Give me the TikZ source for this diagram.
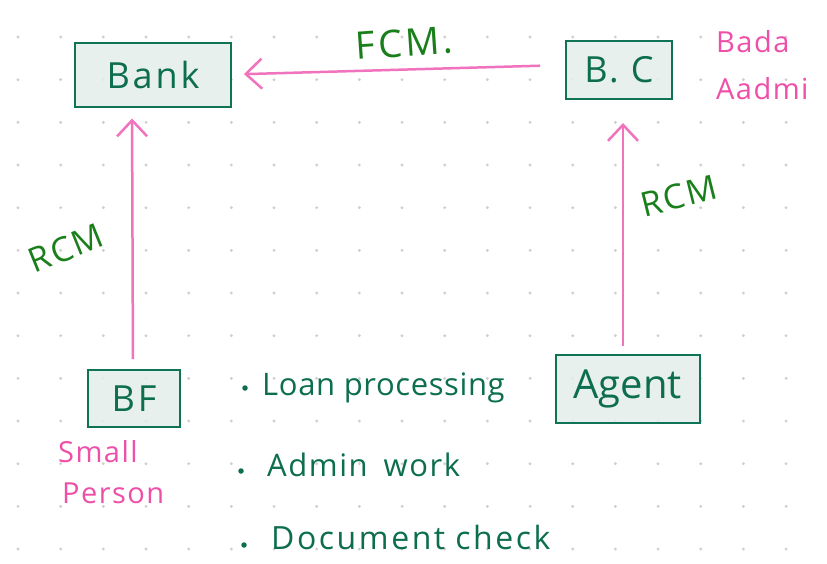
\documentclass[tikz,border=0pt]{standalone}
\usepackage{fontspec}
\setmainfont{Open Sans}
\usetikzlibrary{arrows.meta}
\definecolor{boxline}{HTML}{0F7356}
\definecolor{boxfill}{HTML}{E4EEEA}
\definecolor{inkgreen}{HTML}{0D6E4F}
\definecolor{notegreen}{HTML}{1A7F1A}
\definecolor{notepink}{HTML}{EE4FA8}
\definecolor{linkpink}{HTML}{F173BD}
\definecolor{griddot}{HTML}{CFCFCF}
\newcommand{\wide}[1]{\addfontfeatures{LetterSpace=#1}}
\tikzset{
  party/.style={draw=boxline, line width=2pt, fill=boxfill, fill opacity=0.85,
    text opacity=1, text=inkgreen, inner sep=0pt, font=\fontsize{36}{36}\selectfont\wide{8}},
  flow/.style={draw=linkpink, line width=2.5pt,
    -{Straight Barb[length=16pt,width=30pt,line width=2.5pt]}},
  tag/.style={text=notegreen, font=\fontsize{34}{34}\selectfont\wide{6}, inner sep=0pt},
  aside/.style={text=notepink, font=\fontsize{29}{29}\selectfont\wide{5}, inner sep=0pt, anchor=west},
  item/.style={text=inkgreen, font=\fontsize{31}{31}\selectfont\wide{5}, inner sep=0pt, anchor=west},
  bullet/.style={fill=inkgreen, circle, inner sep=0pt, minimum size=5.5pt}
}
\begin{document}
\begin{tikzpicture}[x=1pt,y=-1pt]
\useasboundingbox[fill=white] (0,0) rectangle (827,563);
% dotted paper
\foreach \i in {0,...,18}
  \foreach \j in {0,...,12}
    \fill[griddot] (18+42.67*\i, 37+42.67*\j) circle (1.6pt);
% parties
\node[party, minimum width=156pt, minimum height=64pt] (bank) at (153,74.5) {Bank};
\node[party, minimum width=106pt, minimum height=58pt] (bc) at (619,70) {B.\,\,C};
\node[party, minimum width=92pt, minimum height=57pt] (bf) at (134,398.5) {BF};
\node[party, minimum width=144pt, minimum height=68pt, font=\fontsize{40}{40}\selectfont] (agent) at (627.5,389) {Agent};
% commission flows
\draw[flow, shorten <=25pt, shorten >=12pt] ([yshift=5pt]bc.west) -- (bank.east);
\draw[flow, shorten <=10pt, shorten >=11pt] ([xshift=-1pt]bf.north) -- ([xshift=-21pt]bank.south);
\draw[flow, shorten <=8pt, shorten >=23pt] ([xshift=-4.5pt]agent.north) -- ([xshift=4pt]bc.south);
% flow labels
\node[tag, rotate=4, font=\fontsize{38}{38}\selectfont\wide{8}] (fcm) at (404,43) {FCM.};
\node[tag, rotate=22] (rcmleft) at (66,248) {RCM};
\node[tag, rotate=14] (rcmright) at (679,196) {RCM};
% side notes
\node[aside] (bada) at (716,42) {Bada};
\node[aside] (aadmi) at (716,89) {Aadmi};
\node[aside] (small) at (58,452) {Small};
\node[aside] (person) at (62,493) {Person};
% duties
\node[bullet] (b1) at (245,388) {};
\node[item, font=\fontsize{31}{31}\selectfont\wide{2}] (loan) at (262,388) {Loan processing};
\node[bullet] (b2) at (241,471) {};
\node[item] (admin) at (267,465) {Admin\hspace{16pt}work};
\node[bullet] (b3) at (244,545) {};
\node[item, font=\fontsize{32}{32}\selectfont\wide{8}] (doc) at (271,537) {Document\hspace{10pt}check};
\end{tikzpicture}
\end{document}
